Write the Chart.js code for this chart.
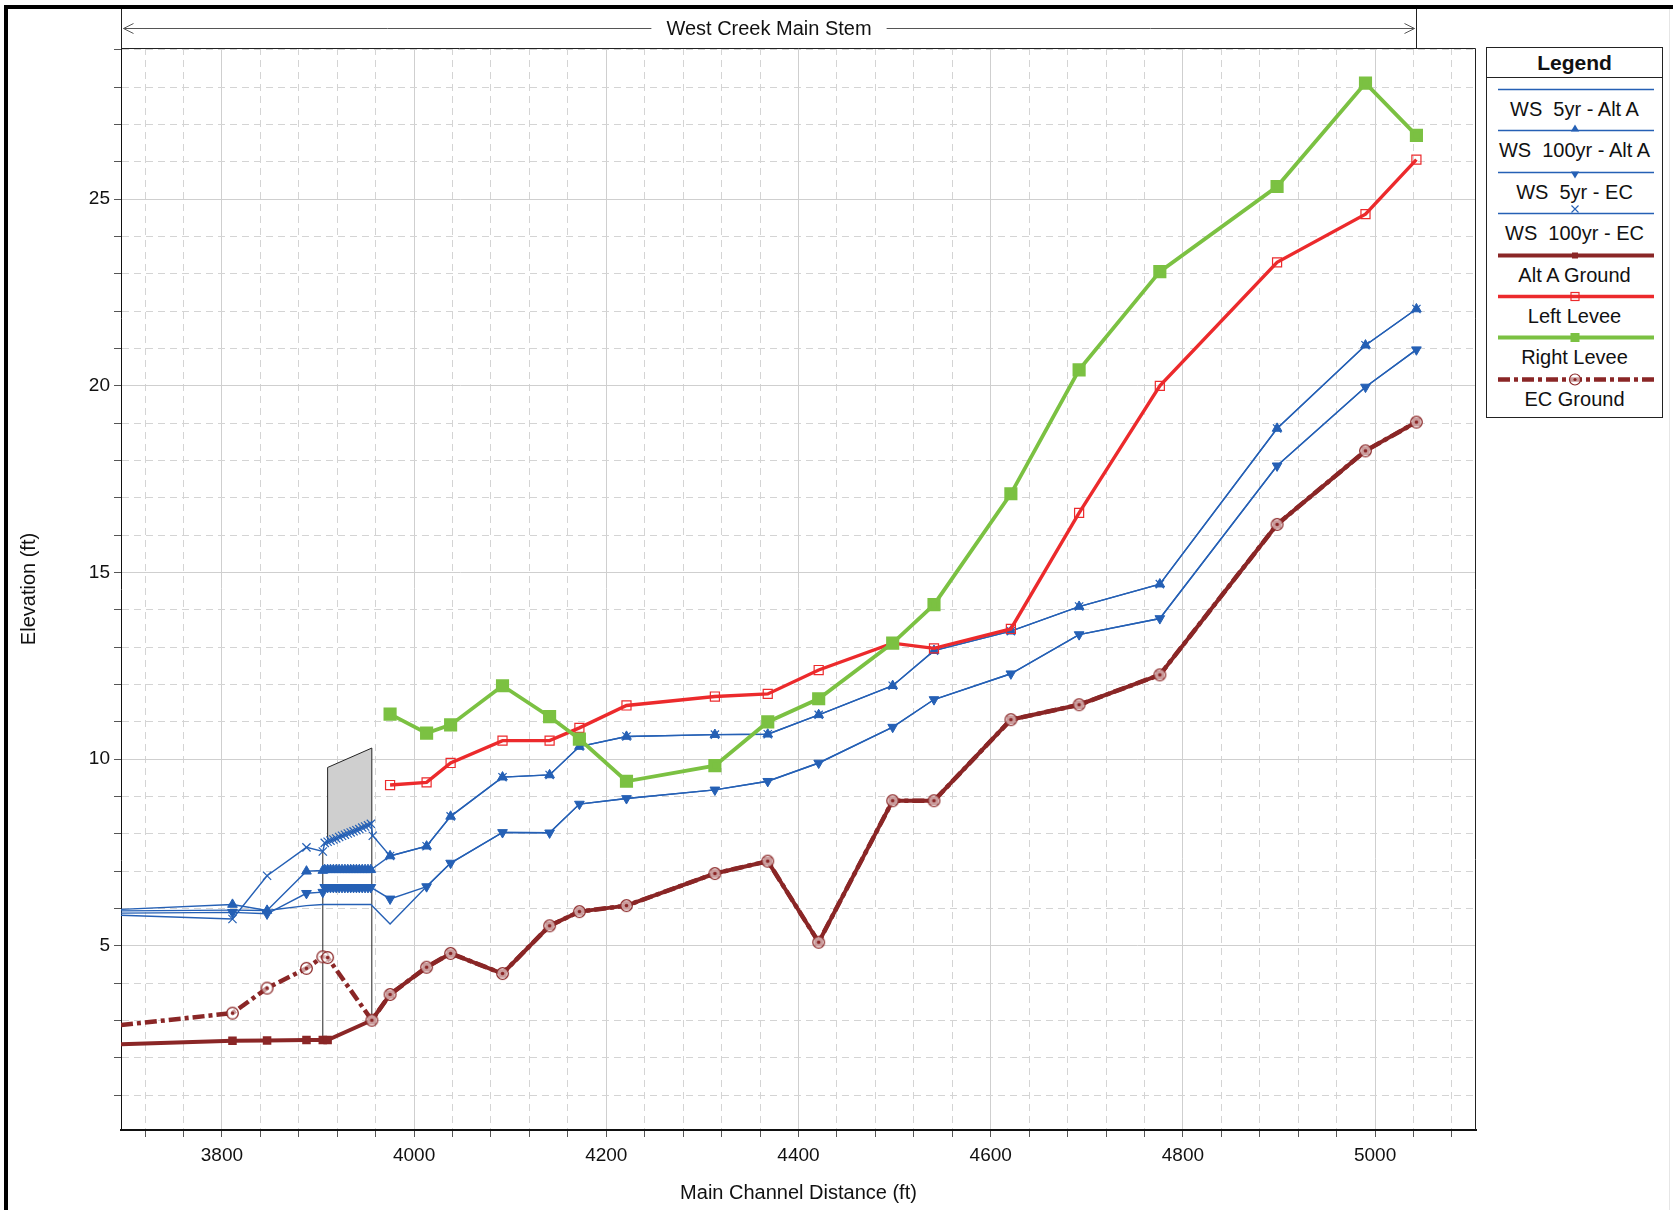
<!DOCTYPE html>
<html>
<head>
<meta charset="utf-8">
<script src="https://cdn.jsdelivr.net/npm/chart.js@4.4.0/dist/chart.umd.min.js"></script>
<style>
  html, body { margin: 0; padding: 0; background: #fff; }
  #wrap { position: relative; width: 1673px; height: 1210px; overflow: hidden; }
  #c { position: absolute; left: 0; top: 0; }
  #legend { position: absolute; left: 1486px; top: 47px; width: 175px; height: 369px;
            border: 1px solid #222; background: #fff; color: #111;
            font-family: 'Liberation Sans', Arial, sans-serif; }
  #legend .ttl { height: 29px; line-height: 29px; text-align: center; font-weight: bold;
                 font-size: 21px; border-bottom: 1px solid #222; }
  #legend .ent { position: relative; height: 41.4px; }
  #legend .ent svg { position: absolute; left: 0; top: 0; }
  #legend .ent span { position: absolute; left: 0; right: 0; top: 20px; line-height: 22px;
                      text-align: center; font-size: 20px; white-space: pre; }
</style>
</head>
<body>
<div id="wrap">
  <canvas id="c" width="1673" height="1210"></canvas>
  <div id="legend"><div class="ttl">Legend</div></div>
</div>
<script>
const FONT = "'Liberation Sans', Arial, sans-serif";

// Axis limits (ft)
const X_MIN = 3695, X_MAX = 5105;
const Y_MIN = 0.07, Y_MAX = 29.05;

// River stations (ft)
const upstreamSta = [3695, 3811, 3847, 3888, 3905];
const bridgeSta = [3907, 3910, 3913, 3916, 3919, 3922, 3925, 3928, 3931, 3934, 3937, 3940, 3943, 3946, 3949, 3952, 3955];
const ecExitSta = [3957];
const reachSta = [3975, 4013, 4038, 4092, 4141, 4172, 4221, 4313, 4368, 4421, 4498, 4541, 4621, 4692, 4776, 4898, 4990, 5043];
const groundUpSta = [3695, 3811, 3847, 3888, 3905, 3910, 3956];

// Water surface elevations (ft)
const ws5AltA = [5.94, 5.96, 5.95, 6.08, 6.11,
  6.11, 6.11, 6.11, 6.11, 6.11, 6.11, 6.11, 6.11, 6.11, 6.11, 6.11, 6.11, 6.11, 6.11, 6.11, 6.11, 6.11,
  5.59, 6.59, 7.22, 8.04, 8.03, 8.80, 8.95, 9.18, 9.41, 9.90, 10.86, 11.60, 12.29, 13.34, 13.77, 17.86, 19.97, 20.97];
const ws100AltA = [5.98, 6.11, 5.95, 7.00, 7.02,
  7.04, 7.04, 7.04, 7.04, 7.04, 7.04, 7.04, 7.04, 7.04, 7.04, 7.04, 7.04, 7.04, 7.04, 7.04, 7.04, 7.04,
  7.41, 7.67, 8.47, 9.52, 9.58, 10.34, 10.61, 10.66, 10.67, 11.19, 11.97, 12.91, 13.43, 14.09, 14.69, 18.86, 21.09, 22.06];
const ws5EC = [5.88, 5.90, 5.86, 6.41, 6.44,
  6.57, 6.57, 6.57, 6.57, 6.57, 6.57, 6.57, 6.57, 6.57, 6.57, 6.57, 6.57, 6.57, 6.57, 6.57, 6.57, 6.57,
  6.26, 6.59, 7.22, 8.04, 8.03, 8.80, 8.95, 9.18, 9.41, 9.90, 10.86, 11.60, 12.29, 13.34, 13.77, 17.86, 19.97, 20.97];
const ws100EC = [5.82, 5.72, 6.88, 7.64, 7.53,
  7.76, 7.79, 7.82, 7.85, 7.88, 7.92, 7.95, 7.98, 8.01, 8.04, 8.07, 8.10, 8.13, 8.17, 8.20, 8.23, 8.27,
  7.95,
  7.41, 7.67, 8.47, 9.52, 9.58, 10.34, 10.61, 10.66, 10.67, 11.19, 11.97, 12.91, 13.43, 14.09, 14.69, 18.86, 21.09, 22.06];

// Ground and levee elevations (ft)
const altAGround = [2.37, 2.46, 2.47, 2.48, 2.48, 2.48, 3.01,
  3.70, 4.43, 4.80, 4.26, 5.54, 5.92, 6.08, 6.94, 7.27, 5.10, 8.89, 8.89, 11.06, 11.46, 12.26, 16.29, 18.26, 19.03];
const ecGround = [2.88, 3.20, 3.87, 4.40, 4.71, 4.69, 3.01,
  3.70, 4.43, 4.80, 4.26, 5.54, 5.92, 6.08, 6.94, 7.27, 5.10, 8.89, 8.89, 11.06, 11.46, 12.26, 16.29, 18.26, 19.03];
const leftLevee = [9.31, 9.38, 9.90, 10.50, 10.50, 10.84, 11.44, 11.68, 11.75, 12.39, 13.11, 12.97, 13.49, 16.60, 20.00, 23.31, 24.60, 26.06];
const rightLevee = [11.21, 10.70, 10.92, 11.97, 11.14, 10.54, 9.41, 9.83, 11.00, 11.62, 13.11, 14.14, 17.11, 20.43, 23.06, 25.34, 28.11, 26.71];

// Bridge deck and faces
const deckSta = [3910, 3956];
const deckTop = [9.78, 10.30];
const deckBottom = [7.85, 8.28];
const faceSta = [3905, 3910, 3956];
const faceLow = [2.48, 7.85, 3.01];
const faceHigh = [7.55, 9.78, 10.30];

// Header text
const reachName = 'West Creek Main Stem';

const BLUE = '#2560b5';
const RED = '#ec2a2c';
const GREEN = '#7bc142';
const MAROON = '#8a2626';

const pts = (xs, ys) => xs.map((x, i) => ({ x, y: ys[i] }));
const edgeRadius = r => ctx => (ctx.raw && ctx.raw.x <= X_MIN) ? 0 : r;

// Open circle with a centre dot, lightly washed so the line beneath shows through faintly
function circleDotMarker(color) {
  const c = document.createElement('canvas');
  c.width = 15; c.height = 15;
  const g = c.getContext('2d');
  g.fillStyle = 'rgba(255,255,255,0.55)';
  g.beginPath(); g.arc(7.5, 7.5, 5.8, 0, Math.PI * 2); g.fill();
  g.strokeStyle = color; g.lineWidth = 1.3;
  g.beginPath(); g.arc(7.5, 7.5, 5.8, 0, Math.PI * 2); g.stroke();
  g.fillStyle = color;
  g.beginPath(); g.arc(7.5, 7.5, 1.8, 0, Math.PI * 2); g.fill();
  return c;
}

const wsSta = [...upstreamSta, ...bridgeSta, ...reachSta];
const ws100ECSta = [...upstreamSta, ...bridgeSta, ...ecExitSta, ...reachSta];
const groundSta = [...groundUpSta, ...reachSta];

const datasets = [
  { data: pts(deckSta, deckTop), borderColor: '#222', borderWidth: 1, pointRadius: 0,
    fill: '+1', backgroundColor: '#cfcfcf', order: 20 },
  { data: pts(deckSta, deckBottom), borderColor: 'rgba(0,0,0,0)', borderWidth: 0, pointRadius: 0,
    fill: false, order: 19 },
];
faceSta.forEach((s, i) => datasets.push({
  data: pts([s, s], [faceLow[i], faceHigh[i]]), borderColor: '#222', borderWidth: 1,
  pointRadius: 0, fill: false, order: 18 }));

datasets.push(
  { label: 'WS  5yr - Alt A', data: pts(wsSta, ws5AltA), borderColor: BLUE, borderWidth: 1.4,
    pointRadius: 0, order: 8 },
  { label: 'WS  100yr - Alt A', data: pts(wsSta, ws100AltA), borderColor: BLUE, borderWidth: 1.4,
    pointStyle: 'triangle', pointRadius: edgeRadius(5.6), pointBackgroundColor: BLUE,
    pointBorderColor: BLUE, pointBorderWidth: 1, order: 7 },
  { label: 'WS  5yr - EC', data: pts(wsSta, ws5EC), borderColor: BLUE, borderWidth: 1.4,
    pointStyle: 'triangle', pointRotation: 180, pointRadius: edgeRadius(5.6), pointBackgroundColor: BLUE,
    pointBorderColor: BLUE, pointBorderWidth: 1, order: 6 },
  { label: 'WS  100yr - EC', data: pts(ws100ECSta, ws100EC), borderColor: BLUE, borderWidth: 1.4,
    pointStyle: 'crossRot', pointRadius: edgeRadius(5.8), pointBorderColor: BLUE, pointBorderWidth: 1.2,
    order: 5 },
  { label: 'Left Levee', data: pts(reachSta, leftLevee), borderColor: RED, borderWidth: 3.4,
    pointStyle: 'rect', pointRadius: 6.4, pointBorderColor: RED, pointBorderWidth: 1.2,
    pointBackgroundColor: 'rgba(255,255,255,0)', order: 4 },
  { label: 'Right Levee', data: pts(reachSta, rightLevee), borderColor: GREEN, borderWidth: 3.8,
    pointStyle: 'rect', pointRadius: 6.6, pointBorderColor: GREEN, pointBackgroundColor: GREEN,
    order: 3 },
  { label: 'Alt A Ground', data: pts(groundSta, altAGround), borderColor: MAROON, borderWidth: 4,
    pointStyle: 'rect', pointRadius: edgeRadius(3.2), pointBorderColor: MAROON, pointBackgroundColor: MAROON,
    order: 2 },
  { label: 'EC Ground', data: pts(groundSta, ecGround), borderColor: MAROON, borderWidth: 4.5,
    borderDash: [12, 4, 4, 4], pointStyle: circleDotMarker(MAROON), pointRadius: edgeRadius(6),
    order: 1 }
);
datasets.forEach(d => { d.tension = 0; if (d.fill === undefined) d.fill = false; });

// Outer frame, plot box and the reach header arrow
const reachHeader = {
  id: 'reachHeader',
  afterDraw(chart) {
    const { ctx, chartArea: a, scales: { x } } = chart;
    ctx.save();
    ctx.fillStyle = '#000';
    ctx.fillRect(4, 5, chart.width - 4, 4);
    ctx.fillRect(4, 5, 4, chart.height - 5);
    ctx.fillStyle = '#e6e6e6';
    ctx.fillRect(chart.width - 4, 9, 1, chart.height - 9);

    ctx.strokeStyle = '#222';
    ctx.lineWidth = 1;
    ctx.beginPath();
    ctx.moveTo(a.left, a.top + 0.5); ctx.lineTo(a.right - 0.5, a.top + 0.5);
    ctx.lineTo(a.right - 0.5, a.bottom);
    ctx.stroke();

    const xL = Math.round(a.left) + 0.5;
    const xR = Math.round(x.getPixelForValue(reachSta[reachSta.length - 1])) + 0.5;
    const yA = 28.5;
    ctx.beginPath();
    ctx.moveTo(xL, 9); ctx.lineTo(xL, a.top);
    ctx.moveTo(xR, 9); ctx.lineTo(xR, a.top);
    ctx.stroke();

    ctx.font = '20px ' + FONT;
    ctx.fillStyle = '#111';
    ctx.textAlign = 'center';
    ctx.textBaseline = 'middle';
    const cx = (xL + xR) / 2;
    const tw = ctx.measureText(reachName).width;
    ctx.fillText(reachName, cx, yA + 1);

    ctx.strokeStyle = '#555';
    ctx.beginPath();
    ctx.moveTo(xL + 2, yA); ctx.lineTo(cx - tw / 2 - 15, yA);
    ctx.moveTo(cx + tw / 2 + 15, yA); ctx.lineTo(xR - 2, yA);
    ctx.moveTo(xL + 12, yA - 5); ctx.lineTo(xL + 2, yA); ctx.lineTo(xL + 12, yA + 5);
    ctx.moveTo(xR - 12, yA - 5); ctx.lineTo(xR - 2, yA); ctx.lineTo(xR - 12, yA + 5);
    ctx.stroke();
    ctx.restore();
  }
};

const isMajor = (v, step) => Math.abs(v / step - Math.round(v / step)) < 1e-6;

Chart.defaults.font.family = FONT;
new Chart(document.getElementById('c'), {
  type: 'line',
  data: { datasets },
  plugins: [reachHeader],
  options: {
    responsive: false,
    animation: false,
    events: [],
    layout: { padding: { left: 0, top: 48, right: 197, bottom: 0 } },
    plugins: { legend: { display: false }, tooltip: { enabled: false } },
    scales: {
      x: {
        type: 'linear', min: X_MIN, max: X_MAX,
        afterFit: s => { s.height = 80; },
        ticks: {
          stepSize: 40, includeBounds: false, autoSkip: false, maxRotation: 0, minRotation: 0,
          padding: 7, color: '#111', font: { size: 19 },
          callback: v => isMajor(v, 200) ? String(Math.round(v)) : ''
        },
        grid: {
          color: c => (c.tick && isMajor(c.tick.value, 200)) ? '#cfcfcf' : '#d4d4d4',
          lineWidth: 1, tickLength: 7, tickColor: '#555'
        },
        border: { display: true, color: '#111', width: 2,
          dash: c => (c.tick && !isMajor(c.tick.value, 200)) ? [7, 5] : [] },
        title: { display: true, text: 'Main Channel Distance (ft)', color: '#111',
          font: { size: 20 }, padding: { top: 0, bottom: 5 } }
      },
      y: {
        type: 'linear', min: Y_MIN, max: Y_MAX,
        afterFit: s => { s.width = 121; },
        ticks: {
          stepSize: 1, includeBounds: false, autoSkip: false, padding: 4, color: '#111',
          font: { size: 19 },
          callback: v => isMajor(v, 5) ? String(Math.round(v)) : ''
        },
        grid: {
          color: c => (c.tick && isMajor(c.tick.value, 5)) ? '#cfcfcf' : '#d4d4d4',
          lineWidth: 1, tickLength: 7, tickColor: '#555'
        },
        border: { display: true, color: '#111', width: 1,
          dash: c => (c.tick && !isMajor(c.tick.value, 5)) ? [7, 5] : [] },
        title: { display: true, text: 'Elevation (ft)', color: '#111',
          font: { size: 20 }, padding: { top: 17, bottom: 0 } }
      }
    }
  }
});

// Legend panel with line samples drawn in SVG
const legendItems = [
  { label: 'WS  5yr - Alt A', color: BLUE, width: 1.4, marker: 'none' },
  { label: 'WS  100yr - Alt A', color: BLUE, width: 1.4, marker: 'triUp' },
  { label: 'WS  5yr - EC', color: BLUE, width: 1.4, marker: 'triDown' },
  { label: 'WS  100yr - EC', color: BLUE, width: 1.4, marker: 'cross' },
  { label: 'Alt A Ground', color: MAROON, width: 4, marker: 'smallSquare' },
  { label: 'Left Levee', color: RED, width: 3.4, marker: 'openSquare' },
  { label: 'Right Levee', color: GREEN, width: 3.8, marker: 'square' },
  { label: 'EC Ground', color: MAROON, width: 4.5, marker: 'circleDot', dash: '12 4 4 4' }
];
const legendEl = document.getElementById('legend');
const NS = 'http://www.w3.org/2000/svg';
legendItems.forEach(it => {
  const ent = document.createElement('div');
  ent.className = 'ent';
  const cy = 11.5, cx = 88, x1 = 11, x2 = 167;
  let m = '';
  if (it.marker === 'triUp') m = `<polygon points="${cx},${cy - 6} ${cx - 4.2},${cy + 1} ${cx + 4.2},${cy + 1}" fill="${it.color}"/>`;
  if (it.marker === 'triDown') m = `<polygon points="${cx},${cy + 6} ${cx - 4.2},${cy - 1} ${cx + 4.2},${cy - 1}" fill="${it.color}"/>`;
  if (it.marker === 'cross') m = `<path d="M${cx - 3.5} ${cy - 8} L${cx + 3.5} ${cy - 1} M${cx + 3.5} ${cy - 8} L${cx - 3.5} ${cy - 1}" stroke="${it.color}" stroke-width="1.1"/>`;
  if (it.marker === 'smallSquare') m = `<rect x="${cx - 3}" y="${cy - 3}" width="6" height="6" fill="${it.color}"/>`;
  if (it.marker === 'openSquare') m = `<rect x="${cx - 4}" y="${cy - 4}" width="8" height="8" fill="none" stroke="${it.color}" stroke-width="1.2"/>`;
  if (it.marker === 'square') m = `<rect x="${cx - 4.5}" y="${cy - 4.5}" width="9" height="9" fill="${it.color}"/>`;
  if (it.marker === 'circleDot') m = `<circle cx="${cx}" cy="${cy}" r="5.5" fill="rgba(255,255,255,0.55)" stroke="${it.color}" stroke-width="1.2"/><circle cx="${cx}" cy="${cy}" r="1.6" fill="${it.color}"/>`;
  ent.innerHTML = `<svg xmlns="${NS}" width="175" height="23"><line x1="${x1}" y1="${cy}" x2="${x2}" y2="${cy}" stroke="${it.color}" stroke-width="${it.width}"${it.dash ? ` stroke-dasharray="${it.dash}"` : ''}/>${m}</svg>`;
  const sp = document.createElement('span');
  sp.textContent = it.label;
  ent.appendChild(sp);
  legendEl.appendChild(ent);
});
</script>
</body>
</html>
